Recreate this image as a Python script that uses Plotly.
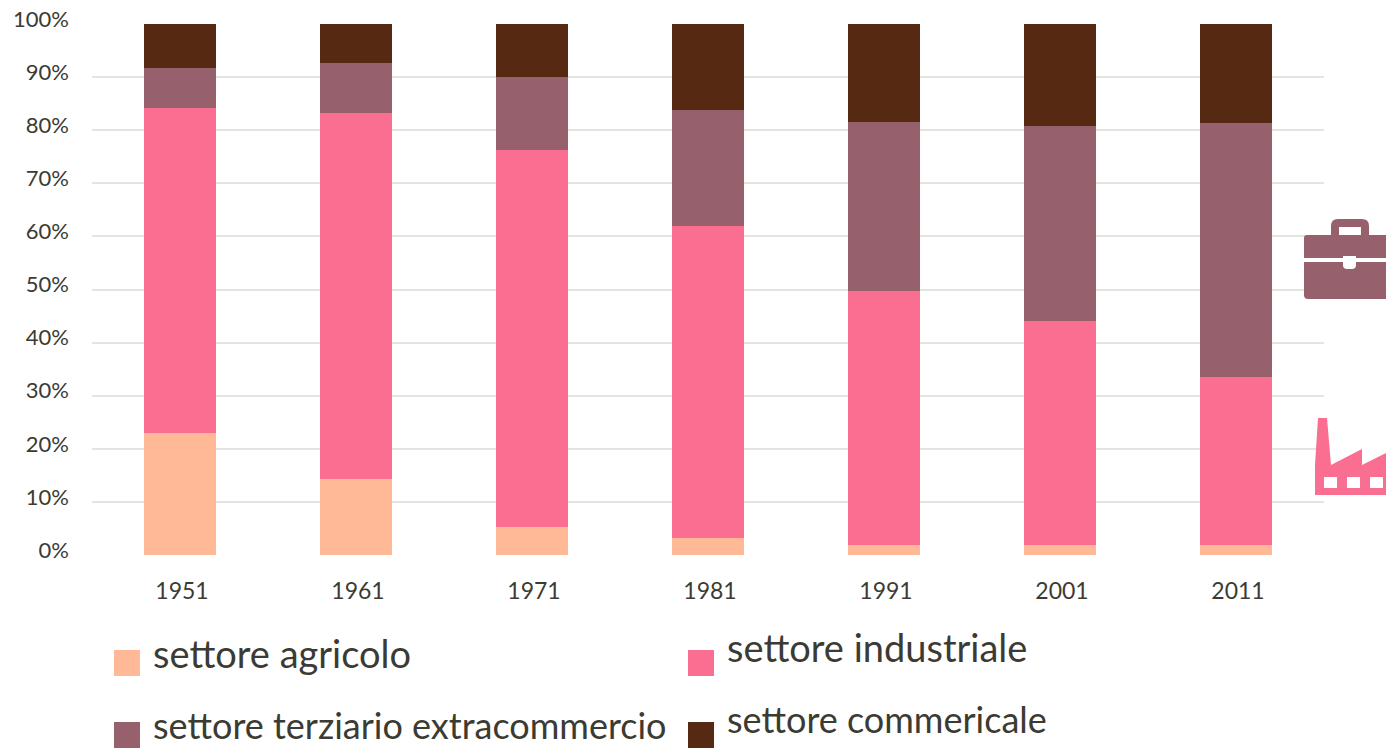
import plotly.graph_objects as go

years = ["1951", "1961", "1971", "1981", "1991", "2001", "2011"]
agricolo = [23.0, 14.3, 5.3, 3.2, 1.9, 1.9, 1.9]
industriale = [61.2, 68.9, 71.0, 58.8, 47.8, 42.2, 31.6]
terziario = [7.5, 9.5, 13.7, 21.8, 31.8, 36.7, 47.9]
commerciale = [8.3, 7.3, 10.0, 16.2, 18.5, 19.2, 18.6]
y_ticks = list(range(0, 101, 10))
y_labels = [f"{v}%" for v in y_ticks]

names = ["settore agricolo", "settore industriale",
         "settore terziario extracommercio", "settore commericale"]
colors = ["#FFB996", "#FA6E91", "#96606C", "#562A12"]
series = [agricolo, industriale, terziario, commerciale]

W, H = 1386, 748
L, R, T, B = 92, 1324, 24, 555
FONT = "Lato"
TXT = "#3b3b33"

fig = go.Figure()
for n, c, s in zip(names, colors, series):
    fig.add_bar(x=years, y=s, name=n, marker=dict(color=c, line_width=0), width=0.405)


def px(x):
    return (x - L) / (R - L)


def py(y):
    return (B - y) / (B - T)


def path(cmds):
    out = []
    for c in cmds:
        op, pts = c[0], c[1:]
        out.append(op + " ".join(f"{px(pts[i]):.5f},{py(pts[i + 1]):.5f}" for i in range(0, len(pts), 2)))
    return " ".join(out) + " Z"


def rect(x0, y0, x1, y1, color):
    fig.add_shape(type="rect", xref="paper", yref="paper", x0=px(x0), x1=px(x1),
                  y0=py(y1), y1=py(y0), fillcolor=color, line_width=0, layer="above")


def poly(cmds, color):
    fig.add_shape(type="path", xref="paper", yref="paper", path=path(cmds),
                  fillcolor=color, line_width=0, layer="above")


# legend
legend_pos = [(114, 650, 151, 653, 38), (688, 650, 725, 647, 38), (114, 722, 151, 725, 36), (688, 722, 725, 719, 36)]
for (sx, sy, tx, ty, fs), n, c in zip(legend_pos, names, colors):
    rect(sx, sy, sx + 26, sy + 26, c)
    fig.add_annotation(text=n, xref="paper", yref="paper", x=px(tx), y=py(ty), xanchor="left",
                       yanchor="middle", showarrow=False, font=dict(family=FONT, size=fs, color=TXT))

# briefcase icon
poly([("M", 1331, 235), ("L", 1331, 226), ("Q", 1331, 219, 1338, 219), ("L", 1362, 219),
      ("Q", 1369, 219, 1369, 226), ("L", 1369, 235), ("L", 1361, 235), ("L", 1361, 227),
      ("L", 1339, 227), ("L", 1339, 235)], colors[2])
poly([("M", 1307, 235), ("L", 1386, 235), ("L", 1386, 299), ("L", 1308, 299),
      ("Q", 1304, 299, 1304, 295), ("L", 1304, 238), ("Q", 1304, 235, 1307, 235)], colors[2])
rect(1304, 258, 1386, 262, "#ffffff")
poly([("M", 1343, 256), ("L", 1356, 256), ("L", 1356, 265), ("Q", 1356, 269, 1352, 269),
      ("L", 1347, 269), ("Q", 1343, 269, 1343, 265)], "#ffffff")

# factory icon
poly([("M", 1318, 418), ("L", 1327, 418), ("L", 1331, 465), ("L", 1362, 449), ("L", 1362, 465),
      ("L", 1386, 453), ("L", 1386, 495), ("L", 1315, 495), ("L", 1315, 465)], colors[1])
for wx in (1324, 1347, 1370):
    rect(wx, 477, wx + 13, 488, "#ffffff")

fig.update_layout(
    width=W, height=H, barmode="stack", showlegend=False,
    paper_bgcolor="#ffffff", plot_bgcolor="#ffffff",
    margin=dict(l=L, r=W - R, t=T, b=H - B, pad=0, autoexpand=False),
    font=dict(family=FONT, color=TXT, size=22),
    xaxis=dict(type="category", showgrid=False, zeroline=False, showline=False, ticks="",
               ticklabelstandoff=20, ticklabelshift=2, tickfont=dict(size=23), automargin=False),
    yaxis=dict(range=[0, 100], tickmode="array", tickvals=y_ticks, ticktext=y_labels,
               gridcolor="#e4e4df", gridwidth=2, automargin=False,
               zeroline=False, showline=False, ticks="", ticklabelstandoff=22, ticklabelshift=-5,
               tickfont=dict(size=22)),
)

fig.write_html("out.html", config={"displayModeBar": False},
               post_script="document.body.style.margin='0';document.body.style.overflow='hidden';")
